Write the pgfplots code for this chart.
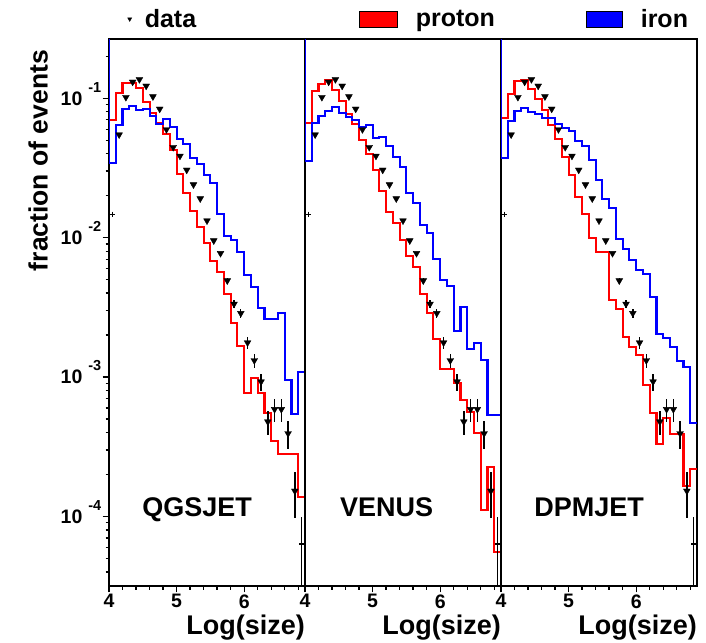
\documentclass[border=0pt]{standalone}
\usepackage{fontspec}
\setmainfont{Liberation Sans}
\usepackage{pgfplots}
\usepackage{pgfplotstable}
\pgfplotsset{compat=1.18}

% data points (same in every panel)
\pgfplotstableread{
x y ey
4.15 0.05480 0.0008
4.25 0.1017 0.0012
4.35 0.1309 0.0014
4.45 0.1364 0.0014
4.55 0.1225 0.0013
4.65 0.1027 0.0012
4.75 0.08380 0.0010
4.85 0.05971 0.0009
4.95 0.04451 0.0008
5.05 0.03855 0.0007
5.15 0.03060 0.0006
5.25 0.02400 0.0005
5.35 0.01905 0.0004
5.45 0.01324 0.0003
5.55 0.009517 0.00025
5.65 0.007727 0.00022
5.75 0.004915 0.00025
5.85 0.003344 0.00022
5.95 0.002868 0.00023
6.05 0.001765 0.00018
6.15 0.001315 0.00016
6.25 0.0009268 0.00013
6.35 0.0004786 0.000095
6.45 0.0005875 0.00011
6.55 0.0005875 0.00011
6.65 0.0003938 0.000089
6.75 0.0001524 0.000055
}\datatab

% QGSJET
\pgfplotstableread{
x red blue
4.0 0.06953 0.03417
4.1 0.1097 0.06401
4.2 0.1294 0.0838
4.3 0.1288 0.08849
4.4 0.1186 0.08243
4.5 0.09454 0.08339
4.6 0.07884 0.07502
4.7 0.06683 0.06573
4.8 0.05545 0.07069
4.9 0.04236 0.06256
5.0 0.02878 0.05106
5.1 0.02103 0.04701
5.2 0.01562 0.03749
5.3 0.011875 0.03378
5.4 0.009118 0.02817
5.5 0.006772 0.02456
5.6 0.005647 0.014867
5.7 0.003926 0.010336
5.8 0.002456 0.009627
5.9 0.001671 0.007896
6.0 0.0007652 0.005427
6.1 0.0009804 0.004451
6.2 0.0007652 0.003116
6.3 0.0005554 0.002624
6.4 0.0003497 0.002624
6.5 0.0002793 0.002869
6.6 0.0002793 0.0009533
6.7 0.0002793 0.0005409
6.8 0.0001387 0.0010933
6.9 0.0001387 0.0010933
}\histA

% VENUS
\pgfplotstableread{
x red blue
4.0 0.06683 0.0355
4.1 0.11337 0.06617
4.2 0.12727 0.07465
4.3 0.13463 0.08148
4.4 0.11468 0.08619
4.5 0.09564 0.07884
4.6 0.07716 0.07306
4.7 0.06541 0.06988
4.8 0.05022 0.06194
4.9 0.03985 0.06434
5.0 0.03060 0.0519
5.1 0.02152 0.05303
5.2 0.015365 0.04548
5.3 0.012813 0.03811
5.4 0.009627 0.03199
5.5 0.007392 0.02082
5.6 0.006194 0.01765
5.7 0.003946 0.012334
5.8 0.002897 0.010861
5.9 0.0018671 0.007034
6.0 0.0011375 0.004972
6.1 0.0011375 0.004526
6.2 0.0009023 0.002141
6.3 0.0006851 0.003199
6.4 0.0005647 0.0015907
6.5 0.0003952 0.0017477
6.6 0.00011133 0.0013264
6.7 0.00022765 0.0005347
6.8 0.00005591 0.0005347
6.9 0.00005591 0.0005347
}\histB

% DPMJET
\pgfplotstableread{
x red blue
4.0 0.07259 0.03749
4.1 0.10683 0.06873
4.2 0.13308 0.08148
4.3 0.13463 0.08477
4.4 0.11602 0.08014
4.5 0.09934 0.07716
4.6 0.08243 0.07259
4.7 0.06434 0.07259
4.8 0.05131 0.06508
4.9 0.03811 0.06092
5.0 0.02831 0.05826
5.1 0.01949 0.0494
5.2 0.014791 0.04548
5.3 0.009951 0.03609
5.4 0.007896 0.02594
5.5 0.007896 0.01905
5.6 0.003574 0.016254
5.7 0.003065 0.009836
5.8 0.001949 0.008339
5.9 0.0016523 0.006919
6.0 0.0014406 0.005865
6.1 0.0008773 0.005463
6.2 0.0005554 0.003774
6.3 0.0003312 0.002028
6.4 0.0005063 0.001898
6.5 0.0003887 0.0016523
6.6 0.0003887 0.0013046
6.7 0.0001655 0.0011875
6.8 0.00022024 0.0004708
6.9 0.00022024 0.0004708
}\histC

\tikzset{model/.style={anchor=base west, inner sep=0pt, font=\fontsize{27}{27}\selectfont\bfseries}}
\newcommand{\ex}[1]{\textbf{10}\hspace{6pt}\raisebox{13pt}{\fontsize{14.5}{14.5}\selectfont\bfseries #1}}

\begin{document}
\begin{tikzpicture}
\path[use as bounding box] (0,0) rectangle (706pt,642pt);

% ---------- panel 1: QGSJET ----------
\begin{axis}[
  scale only axis, width=196pt, height=547pt,
  xmin=4, xmax=6.9, ymode=log, ymin=3.17e-5, ymax=0.266,
  axis line style={line width=1.8pt},
  tick align=outside, xtick pos=left, ytick pos=left,
  xtick={4,5,6}, xticklabels={4,5,6},
  minor xtick={4.2,4.4,4.6,4.8,5.2,5.4,5.6,5.8,6.2,6.4,6.6,6.8},
  major tick length=6.5pt, minor tick length=3.5pt,
  tick style={black, line width=1.3pt},
  tick label style={font=\fontsize{19.5}{19.5}\selectfont\bfseries},
  xticklabel style={yshift=1.5pt},
  xlabel={Log(size)},
  xlabel style={at={(axis description cs:1,0)}, anchor=base east, yshift=-48pt, inner sep=0pt, font=\fontsize{27}{27}\selectfont\bfseries},
  ytick={1e-4,1e-3,1e-2,1e-1},
  yticklabels={\ex{-4},\ex{-3},\ex{-2},\ex{-1}},
  minor ytick={4e-5,5e-5,6e-5,7e-5,8e-5,9e-5,2e-4,3e-4,4e-4,5e-4,6e-4,7e-4,8e-4,9e-4,2e-3,3e-3,4e-3,5e-3,6e-3,7e-3,8e-3,9e-3,2e-2,3e-2,4e-2,5e-2,6e-2,7e-2,8e-2,9e-2,2e-1},
  yticklabel style={anchor=base east, yshift=-6.8pt, inner sep=1pt},
  ylabel={fraction of events},
  ylabel style={at={(axis description cs:-0.362,0.98)}, anchor=east, inner sep=0pt, font=\fontsize{26.5}{26.5}\selectfont\bfseries},
  legend style={draw=none, fill=none, inner sep=0pt, font=\fontsize{25}{25}\selectfont\bfseries, nodes={inner sep=0pt},
    at={(axis description cs:0.094,1.0366)}, anchor=west, /tikz/every odd column/.append style={column sep=13pt}},
  legend cell align=left,
  at={(109pt,56pt)}, anchor=south west,
]
\addlegendimage{legend image code/.code={\draw[black] plot[only marks, mark=triangle*, mark size=2.4pt, mark options={rotate=180, fill=black, draw=black}] coordinates {(2.4pt,0pt)};}}
\addlegendentry{data}
\addplot[const plot mark left, no marks, line width=2.1pt, red, forget plot] table[x=x, y=red] \histA;
\addplot[const plot mark left, no marks, line width=2.1pt, blue, forget plot] table[x=x, y=blue] \histA;
\addplot[blue, line width=2.1pt, forget plot] coordinates {(4,0.03417) (4,0.3)};
\addplot[only marks, mark=triangle*, mark size=3.9pt, mark options={rotate=180, fill=black, draw=black}, forget plot,
    error bars/y dir=both, error bars/y explicit, error bars/error mark=none, error bars/error bar style={line width=1.4pt, black}]
    table[x=x, y=y, y error=ey] \datatab;
\addplot[only marks, mark=+, mark size=2.6pt, mark options={line width=1.2pt, black}, forget plot] coordinates {(4.05,0.01472)};
\addplot[only marks, mark=-, mark size=2.5pt, mark options={line width=1.4pt, black}, forget plot,
    error bars/y dir=both, error bars/y explicit, error bars/error mark=none, error bars/error bar style={line width=1.4pt, black}]
    coordinates {(6.85,0.00006348) +- (0,0.0000362)};
\node[model] at (axis cs:4.49,1e-4) {QGSJET};
\end{axis}

% ---------- panel 2: VENUS ----------
\begin{axis}[
  scale only axis, width=196pt, height=547pt,
  xmin=4, xmax=6.9, ymode=log, ymin=3.17e-5, ymax=0.266,
  axis line style={line width=1.8pt},
  tick align=outside, xtick pos=left, ytick pos=left,
  xtick={4,5,6}, xticklabels={4,5,6},
  minor xtick={4.2,4.4,4.6,4.8,5.2,5.4,5.6,5.8,6.2,6.4,6.6,6.8},
  major tick length=6.5pt, minor tick length=3.5pt,
  tick style={black, line width=1.3pt},
  tick label style={font=\fontsize{19.5}{19.5}\selectfont\bfseries},
  xticklabel style={yshift=1.5pt},
  xlabel={Log(size)},
  xlabel style={at={(axis description cs:1,0)}, anchor=base east, yshift=-48pt, inner sep=0pt, font=\fontsize{27}{27}\selectfont\bfseries},
  ytick=\empty,
  legend style={draw=none, fill=none, inner sep=0pt, font=\fontsize{25}{25}\selectfont\bfseries, nodes={inner sep=0pt},
    at={(axis description cs:0.2755,1.0366)}, anchor=west, /tikz/every odd column/.append style={column sep=18pt}},
  legend cell align=left,
  at={(305pt,56pt)}, anchor=south west,
]
\addlegendimage{legend image code/.code={\draw[draw=black, fill=red, line width=0.6pt] (0pt,-8pt) rectangle (38pt,8pt);}}
\addlegendentry{proton}
\addplot[const plot mark left, no marks, line width=2.1pt, red, forget plot] table[x=x, y=red] \histB;
\addplot[const plot mark left, no marks, line width=2.1pt, blue, forget plot] table[x=x, y=blue] \histB;
\addplot[blue, line width=2.1pt, forget plot] coordinates {(4,0.0355) (4,0.3)};
\addplot[only marks, mark=triangle*, mark size=3.9pt, mark options={rotate=180, fill=black, draw=black}, forget plot,
    error bars/y dir=both, error bars/y explicit, error bars/error mark=none, error bars/error bar style={line width=1.4pt, black}]
    table[x=x, y=y, y error=ey] \datatab;
\addplot[only marks, mark=+, mark size=2.6pt, mark options={line width=1.2pt, black}, forget plot] coordinates {(4.05,0.01472)};
\addplot[only marks, mark=-, mark size=2.5pt, mark options={line width=1.4pt, black}, forget plot,
    error bars/y dir=both, error bars/y explicit, error bars/error mark=none, error bars/error bar style={line width=1.4pt, black}]
    coordinates {(6.85,0.00006348) +- (0,0.0000362)};
\node[model] at (axis cs:4.515,1e-4) {VENUS};
\end{axis}

% ---------- panel 3: DPMJET ----------
\begin{axis}[
  scale only axis, width=196pt, height=547pt,
  xmin=4, xmax=6.9, ymode=log, ymin=3.17e-5, ymax=0.266,
  axis line style={line width=1.8pt},
  tick align=outside, xtick pos=left, ytick pos=left,
  xtick={4,5,6}, xticklabels={4,5,6},
  minor xtick={4.2,4.4,4.6,4.8,5.2,5.4,5.6,5.8,6.2,6.4,6.6,6.8},
  major tick length=6.5pt, minor tick length=3.5pt,
  tick style={black, line width=1.3pt},
  tick label style={font=\fontsize{19.5}{19.5}\selectfont\bfseries},
  xticklabel style={yshift=1.5pt},
  xlabel={Log(size)},
  xlabel style={at={(axis description cs:1,0)}, anchor=base east, yshift=-48pt, inner sep=0pt, font=\fontsize{27}{27}\selectfont\bfseries},
  ytick=\empty,
  legend style={draw=none, fill=none, inner sep=0pt, font=\fontsize{25}{25}\selectfont\bfseries, nodes={inner sep=0pt},
    at={(axis description cs:0.4337,1.0366)}, anchor=west, /tikz/every odd column/.append style={column sep=18pt}},
  legend cell align=left,
  at={(501pt,56pt)}, anchor=south west,
]
\addlegendimage{legend image code/.code={\draw[draw=black, fill=blue, line width=0.6pt] (0pt,-8pt) rectangle (36pt,8pt);}}
\addlegendentry{iron}
\addplot[const plot mark left, no marks, line width=2.1pt, red, forget plot] table[x=x, y=red] \histC;
\addplot[const plot mark left, no marks, line width=2.1pt, blue, forget plot] table[x=x, y=blue] \histC;
\addplot[blue, line width=2.1pt, forget plot] coordinates {(4,0.03749) (4,0.3)};
\addplot[only marks, mark=triangle*, mark size=3.9pt, mark options={rotate=180, fill=black, draw=black}, forget plot,
    error bars/y dir=both, error bars/y explicit, error bars/error mark=none, error bars/error bar style={line width=1.4pt, black}]
    table[x=x, y=y, y error=ey] \datatab;
\addplot[only marks, mark=+, mark size=2.6pt, mark options={line width=1.2pt, black}, forget plot] coordinates {(4.05,0.01472)};
\addplot[only marks, mark=-, mark size=2.5pt, mark options={line width=1.4pt, black}, forget plot,
    error bars/y dir=both, error bars/y explicit, error bars/error mark=none, error bars/error bar style={line width=1.4pt, black}]
    coordinates {(6.85,0.00006348) +- (0,0.0000362)};
\node[model] at (axis cs:4.49,1e-4) {DPMJET};
\end{axis}
\end{tikzpicture}
\end{document}
